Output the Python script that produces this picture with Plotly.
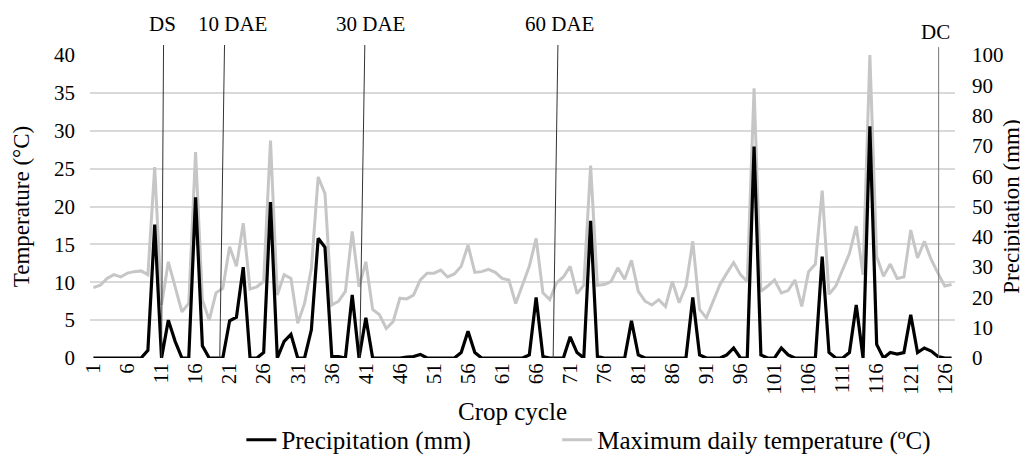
import plotly.graph_objects as go

crop_cycle = list(range(1, 128))

max_temp_c = [
    9.3, 9.6, 10.5, 11.0, 10.7, 11.2, 11.4, 11.5, 11.0, 25.2,
    7.0, 12.7, 9.4, 6.1, 7.2, 27.2, 7.7, 5.0, 8.6, 9.2,
    14.7, 12.1, 17.8, 9.1, 9.4, 10.1, 28.7, 8.3, 11.0, 10.5,
    4.6, 7.2, 11.8, 23.9, 21.7, 7.0, 7.5, 8.8, 16.7, 9.4,
    12.7, 6.4, 5.7, 3.9, 4.8, 7.9, 7.8, 8.3, 10.3, 11.2,
    11.2, 11.6, 10.7, 11.1, 12.1, 14.9, 11.3, 11.4, 11.7, 11.3,
    10.5, 10.3, 7.2, 9.6, 12.1, 15.8, 8.6, 7.7, 9.9, 10.7,
    12.1, 8.5, 9.6, 25.4, 9.6, 9.7, 10.1, 11.9, 10.4, 12.9,
    8.8, 7.5, 7.0, 7.7, 6.8, 10.1, 7.3, 9.5, 15.4, 6.4,
    5.3, 7.5, 9.7, 11.2, 12.6, 11.0, 10.1, 35.6, 8.8, 9.5,
    10.3, 8.6, 8.9, 10.3, 6.8, 11.4, 12.4, 22.1, 8.4, 9.5,
    11.6, 13.8, 17.4, 11.0, 40.0, 13.4, 10.8, 12.4, 10.5, 10.7,
    16.9, 13.2, 15.4, 13.0, 11.2, 9.5, 9.7,
]

precip_mm = [
    0, 0, 0, 0, 0, 0, 0, 0, 2.5, 44.0,
    0, 12.5, 5.5, 0, 0, 53.0, 4.0, 0, 0, 0,
    12.3, 13.5, 30.0, 0, 0, 1.8, 51.5, 0, 5.5, 7.8,
    0, 0, 9.3, 39.5, 36.5, 0.5, 0.5, 0, 20.8, 0,
    13.3, 0, 0, 0, 0, 0, 0.3, 0.5, 1.2, 0,
    0, 0, 0, 0, 1.8, 8.8, 1.8, 0, 0, 0,
    0, 0, 0, 0, 1.0, 20.0, 0.5, 0, 0, 0,
    7.0, 1.8, 0, 45.3, 0.5, 0, 0, 0, 0, 12.3,
    1.0, 0, 0, 0, 0, 0, 0, 0, 20.0, 1.0,
    0, 0, 0, 1.0, 3.3, 0, 0, 69.8, 1.0, 0,
    0, 3.3, 1.0, 0, 0, 0, 0, 33.5, 1.8, 0,
    0, 1.8, 17.5, 0, 76.5, 4.5, 0, 1.8, 1.3, 1.8,
    14.3, 1.8, 3.3, 2.3, 0.5, 0, 0,
]

x_tick_vals = list(range(1, 127, 5))
x_tick_text = [str(v) for v in x_tick_vals]

event_labels = ["DS", "10 DAE", "30 DAE", "60 DAE", "DC"]
event_cycle_bottom = [11.0, 19.55, 40.1, 68.5, 125.1]
event_cycle_top = [11.3, 20.25, 40.85, 69.2, 125.1]

FONT = "Liberation Serif, Times New Roman, serif"
GAP = "\u00a0" * 13

fig = go.Figure()
fig.add_trace(go.Scatter(
    x=crop_cycle, y=max_temp_c, mode="lines",
    name="Maximum daily temperature (\u00baC)",
    line=dict(color="#c6c6c6", width=3), yaxis="y", legendrank=2,
))
fig.add_trace(go.Scatter(
    x=crop_cycle, y=precip_mm, mode="lines",
    name="Precipitation (mm)" + GAP,
    line=dict(color="#000000", width=3.2), yaxis="y2", legendrank=1,
))

label_y = [1.102, 1.102, 1.102, 1.102, 1.076]
line_top = [1.033, 1.033, 1.033, 1.033, 1.026]
line_col = ["#333333", "#333333", "#333333", "#333333", "#777777"]
label_x = [11.1, 21.35, 41.75, 69.5, 124.6]
for i, lab in enumerate(event_labels):
    fig.add_shape(type="line", xref="x", yref="paper",
                  x0=event_cycle_bottom[i], x1=event_cycle_top[i],
                  y0=0, y1=line_top[i],
                  line=dict(color=line_col[i], width=1))
    fig.add_annotation(text=lab, xref="x", yref="paper", x=label_x[i], y=label_y[i],
                       showarrow=False, font=dict(family=FONT, size=21, color="#000"),
                       xanchor="center", yanchor="middle")

# x-axis title as an annotation for exact placement
fig.add_annotation(text="Crop cycle", xref="paper", yref="paper", x=0.488, y=-0.178,
                   showarrow=False, font=dict(family=FONT, size=25, color="#000"),
                   xanchor="center", yanchor="middle")

# page body has an 8px default margin: compensate so plot lands where the reference has it
fig.update_layout(
    width=1020, height=453,
    margin=dict(l=82, r=73, t=47, b=103),
    paper_bgcolor="white", plot_bgcolor="white",
    font=dict(family=FONT, color="#000000"),
    showlegend=True,
    legend=dict(orientation="h", x=0.175, xanchor="left",
                yref="container", y=0.0464, yanchor="middle",
                font=dict(family=FONT, size=25), bgcolor="rgba(0,0,0,0)"),
    xaxis=dict(
        range=[0.5, 127.5], tickmode="array", tickvals=x_tick_vals, ticktext=x_tick_text,
        tickangle=-90, tickfont=dict(size=21), showgrid=False, zeroline=False,
        showline=False, ticks="", automargin=False,
    ),
    yaxis=dict(
        range=[0, 40], dtick=5, showgrid=True, gridcolor="#d9d9d9", gridwidth=1.5,
        zeroline=False, showline=False, ticks="", tickfont=dict(size=21),
        ticklabelstandoff=14, automargin=False,
        title=dict(text="Temperature (\u00b0C)", font=dict(size=23), standoff=17),
    ),
    yaxis2=dict(
        range=[0, 100], dtick=10, overlaying="y", side="right", showgrid=False,
        zeroline=False, showline=False, ticks="", tickfont=dict(size=21),
        ticklabelstandoff=16, automargin=False,
        title=dict(text="Precipitation (mm)", font=dict(size=23), standoff=0),
    ),
)

fig.write_html("out.html")
